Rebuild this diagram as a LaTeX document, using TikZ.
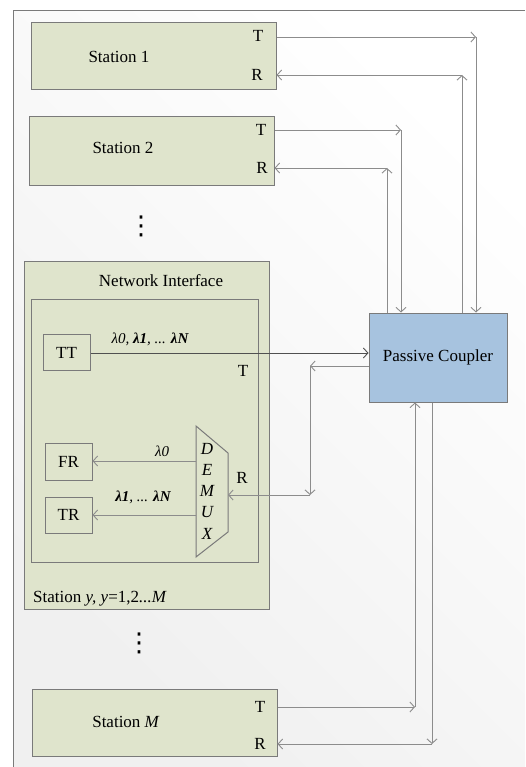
\documentclass[tikz,border=0pt]{standalone}
\usepackage{fontspec}
\setmainfont{Liberation Serif}
\newfontfamily\symfont{DejaVu Sans}
\usetikzlibrary{arrows.meta}
\definecolor{boxgreen}{HTML}{DFE4CC}
\definecolor{couplerblue}{HTML}{A7C3DF}
\definecolor{edgegray}{HTML}{7A7A7A}
\definecolor{linegray}{HTML}{8C8C8C}
\definecolor{darkline}{HTML}{505050}
\begin{document}
\begin{tikzpicture}[x=1pt,y=-1pt,
  font=\fontsize{17}{20}\selectfont,
  box/.style={draw=edgegray, line width=1pt, fill=boxgreen, rectangle, inner sep=0pt},
  smallbox/.style={box, minimum width=47pt, minimum height=36pt},
  lbl/.style={inner sep=0pt},
  lam/.style={inner sep=0pt, font=\fontsize{15}{18}\selectfont\itshape},
  arr/.style={draw=linegray, line width=0.9pt, -{Straight Barb[length=4.5pt,width=10pt]}},
  darr/.style={arr, draw=darkline},
  dotmark/.style={inner sep=0pt, font=\symfont\fontsize{26}{26}\selectfont}]

% page frame with a soft grey gradient
\useasboundingbox (0,0) rectangle (525,767);
\shade[top color=white, bottom color=gray!12, shading angle=-45] (13,11) rectangle (525,767);
\draw[edgegray, line width=1pt] (13,767) -- (13,11) -- (525,11);

% passive coupler
\node[draw=edgegray, line width=1pt, fill=couplerblue, inner sep=0pt,
      minimum width=138pt, minimum height=89pt] (pc) at (438,357.5) {};
\node[lbl] (pctext) at (438,357) {Passive Coupler};

% station 1
\node[box, minimum width=245pt, minimum height=67pt] (s1) at (153.5,56.5) {};
\node[lbl] (s1name) at (119,57) {Station 1};
\node[lbl] (s1T) at (258,36) {T};
\node[lbl] (s1R) at (257,75) {R};

% station 2
\node[box, minimum width=245pt, minimum height=69pt] (s2) at (151.5,151.5) {};
\node[lbl] (s2name) at (123,148) {Station 2};
\node[lbl] (s2T) at (261,130) {T};
\node[lbl] (s2R) at (262,168) {R};

% vertical ellipsis between station 2 and station y
\node[dotmark] (dots1) at (141,226) {⋮};

% station y with its network interface
\node[box, minimum width=245pt, minimum height=348pt] (sy) at (146.5,435) {};
\node[lbl] (nitext) at (161,281) {Network Interface};
\node[box, minimum width=227pt, minimum height=263pt] (ni) at (144.5,430.5) {};
\node[lbl, anchor=west] (sytext) at (33,599) {Station \textit{y, y}=1,2\textit{...M}};

\node[smallbox] (tt) at (66.5,352) {};
\node[lbl] (tttext) at (66.5,353) {TT};
\node[smallbox, minimum height=37pt] (fr) at (68.5,461.5) {};
\node[lbl] (frtext) at (68.5,462) {FR};
\node[smallbox] (tr) at (68.5,515) {};
\node[lbl] (trtext) at (68.5,515) {TR};

\node[lbl] (niT) at (243,371) {T};
\node[lbl] (niR) at (242,478) {R};

% demultiplexer
\draw[draw=edgegray, line width=1pt, fill=boxgreen] (196,426) -- (228,453) -- (228,532) -- (196,557) -- cycle;
\node[inner sep=0pt, align=center, font=\fontsize{17}{21.25}\selectfont\itshape] (dmx) at (207,491) {D\\E\\M\\U\\X};
\coordinate (dmxin) at (228,495);
\coordinate (dmxfr) at (196,461);
\coordinate (dmxtr) at (196,515);

% station M
\node[box, minimum width=245pt, minimum height=67pt] (sm) at (154.5,722.5) {};
\node[lbl] (smname) at (126,722) {Station \textit{M}};
\node[lbl] (smT) at (260,707) {T};
\node[lbl] (smR) at (260,744) {R};

% vertical ellipsis between station y and station M
\node[dotmark] (dots2) at (139,643) {⋮};

% routing corners
\coordinate (c1t) at (476,37);
\coordinate (c1r) at (462,75);
\coordinate (c2t) at (401,130);
\coordinate (c2r) at (387,168);
\coordinate (cmt) at (415,707);
\coordinate (cmr) at (432,744);
\coordinate (cya) at (310,366);
\coordinate (cyb) at (310,495);

% station 1 links
\draw[arr] (s1.east |- c1t) -- (c1t);
\draw[arr] (c1t) -- (c1t |- pc.north);
\draw[arr] (c1r |- pc.north) -- (c1r);
\draw[arr] (c1r) -- (s1.east |- c1r);

% station 2 links
\draw[arr] (s2.east |- c2t) -- (c2t);
\draw[arr] (c2t) -- (c2t |- pc.north);
\draw[arr] (c2r |- pc.north) -- (c2r);
\draw[arr] (c2r) -- (s2.east |- c2r);

% station M links
\draw[arr] (sm.east |- cmt) -- (cmt);
\draw[arr] (cmt) -- (cmt |- pc.south);
\draw[arr] (cmr |- pc.south) -- (cmr);
\draw[arr] (cmr) -- (sm.east |- cmr);

% station y links
\draw[darr] (tt.east |- 0,353) -- (pc.west |- 0,353);
\node[lam] (lamT) at (150,339) {λ0, \textbf{λ1}, ... \textbf{λN}};
\draw[arr] (pc.west |- cya) -- (cya);
\draw[arr] (cya) -- (cyb);
\draw[arr] (cyb) -- (dmxin);
\draw[arr] (dmxfr) -- (fr.east |- dmxfr);
\node[lam] (lam0) at (162,451) {λ0};
\draw[arr] (dmxtr) -- (tr.east |- dmxtr);
\node[lam] (lamR) at (143,497) {\textbf{λ1}, ... \textbf{λN}};
\end{tikzpicture}
\end{document}
